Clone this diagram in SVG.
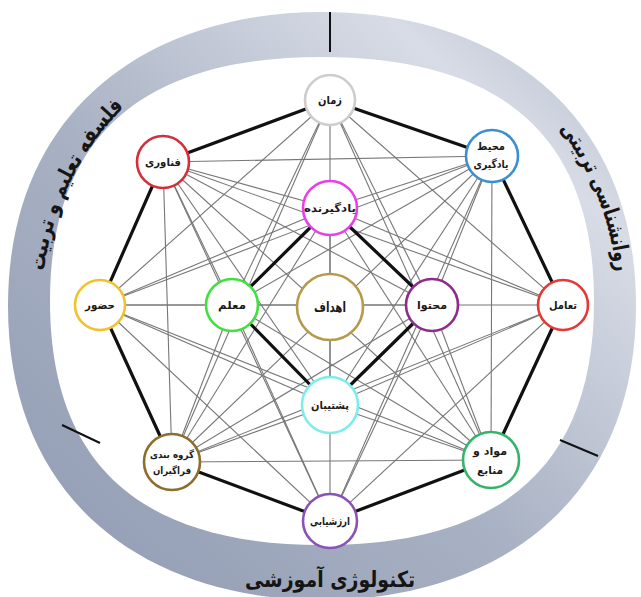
<svg xmlns="http://www.w3.org/2000/svg" width="641" height="597" viewBox="0 0 641 597">
<defs>
<linearGradient id="ringGrad" x1="0" y1="1" x2="1" y2="0">
<stop offset="0" stop-color="#8f99b1"/>
<stop offset="0.45" stop-color="#a9b2c4"/>
<stop offset="0.8" stop-color="#d8dce6"/>
<stop offset="1" stop-color="#aeb7c9"/>
</linearGradient>
<path id="leftArc" d="M 79.5 445 A 280 280 0 0 1 283 27.7"/>
<path id="rightArc" d="M 393.6 17.8 A 296 296 0 0 1 570.3 466.2"/>
</defs>
<style>
.thin{stroke:#777;stroke-width:1.1;fill:none}
.thick{stroke:#111;stroke-width:3.2;fill:none;stroke-linecap:round}
.node circle{fill:#fff;stroke-width:2.6}
.lbl{font-family:"DejaVu Sans",sans-serif;font-weight:bold;font-size:11px;fill:#1a1a1a;text-anchor:middle;dominant-baseline:central}
.ring{font-family:"DejaVu Sans",sans-serif;font-weight:bold;font-size:22px;fill:#151515}
.div{stroke:#111;stroke-width:2}
</style>
<rect width="641" height="597" fill="#fff"/>
<g id="ring">
<path fill="url(#ringGrad)" d="M 636 306 C 636 503 495 600 322 600 C 149 600 8 503 8 306 C 8 109 149 12 322 12 C 495 12 636 109 636 306 Z"/>
<path fill="#fff" d="M 594 301 C 594 464 504 545 322 545 C 140 545 50 464 50 301 C 50 138 140 57 322 57 C 504 57 594 138 594 301 Z"/>
<line class="div" x1="330" y1="12" x2="330" y2="52"/>
<line class="div" x1="62" y1="425" x2="100" y2="443"/>
<line class="div" x1="560" y1="440" x2="598" y2="456"/>
<text class="ring" text-anchor="middle"><textPath href="#leftArc" startOffset="50%" textLength="186" lengthAdjust="spacingAndGlyphs">فلسفه تعلیم و تربیت</textPath></text>
<text class="ring" text-anchor="middle"><textPath href="#rightArc" startOffset="50%" textLength="156" lengthAdjust="spacingAndGlyphs">روانشناسی تربیتی</textPath></text>
<text class="ring" x="330" y="587" text-anchor="middle" textLength="170" lengthAdjust="spacingAndGlyphs">تکنولوژی آموزشی</text>
</g>
<g id="connectors">
<line class="thin" x1="330" y1="100" x2="563" y2="305"/>
<line class="thin" x1="330" y1="100" x2="491" y2="460"/>
<line class="thin" x1="330" y1="100" x2="330" y2="521"/>
<line class="thin" x1="330" y1="100" x2="172" y2="462"/>
<line class="thin" x1="330" y1="100" x2="100" y2="305"/>
<line class="thin" x1="330" y1="100" x2="432" y2="305"/>
<line class="thin" x1="330" y1="100" x2="232" y2="305"/>
<line class="thin" x1="492" y1="156" x2="491" y2="460"/>
<line class="thin" x1="492" y1="156" x2="330" y2="521"/>
<line class="thin" x1="492" y1="156" x2="172" y2="462"/>
<line class="thin" x1="492" y1="156" x2="100" y2="305"/>
<line class="thin" x1="492" y1="156" x2="163" y2="162"/>
<line class="thin" x1="492" y1="156" x2="330" y2="208"/>
<line class="thin" x1="492" y1="156" x2="432" y2="305"/>
<line class="thin" x1="492" y1="156" x2="330" y2="405"/>
<line class="thin" x1="492" y1="156" x2="232" y2="305"/>
<line class="thin" x1="563" y1="305" x2="330" y2="521"/>
<line class="thin" x1="563" y1="305" x2="172" y2="462"/>
<line class="thin" x1="563" y1="305" x2="100" y2="305"/>
<line class="thin" x1="563" y1="305" x2="163" y2="162"/>
<line class="thin" x1="563" y1="305" x2="330" y2="208"/>
<line class="thin" x1="563" y1="305" x2="330" y2="405"/>
<line class="thin" x1="491" y1="460" x2="172" y2="462"/>
<line class="thin" x1="491" y1="460" x2="100" y2="305"/>
<line class="thin" x1="491" y1="460" x2="163" y2="162"/>
<line class="thin" x1="491" y1="460" x2="330" y2="208"/>
<line class="thin" x1="491" y1="460" x2="432" y2="305"/>
<line class="thin" x1="491" y1="460" x2="330" y2="405"/>
<line class="thin" x1="491" y1="460" x2="232" y2="305"/>
<line class="thin" x1="330" y1="521" x2="100" y2="305"/>
<line class="thin" x1="330" y1="521" x2="163" y2="162"/>
<line class="thin" x1="330" y1="521" x2="432" y2="305"/>
<line class="thin" x1="330" y1="521" x2="232" y2="305"/>
<line class="thin" x1="172" y1="462" x2="163" y2="162"/>
<line class="thin" x1="172" y1="462" x2="330" y2="208"/>
<line class="thin" x1="172" y1="462" x2="432" y2="305"/>
<line class="thin" x1="172" y1="462" x2="330" y2="405"/>
<line class="thin" x1="172" y1="462" x2="232" y2="305"/>
<line class="thin" x1="100" y1="305" x2="330" y2="208"/>
<line class="thin" x1="100" y1="305" x2="232" y2="305"/>
<line class="thin" x1="100" y1="305" x2="330" y2="405"/>
<line class="thin" x1="163" y1="162" x2="330" y2="208"/>
<line class="thin" x1="163" y1="162" x2="432" y2="305"/>
<line class="thin" x1="163" y1="162" x2="330" y2="405"/>
<line class="thin" x1="163" y1="162" x2="232" y2="305"/>
<line class="thin" x1="330" y1="208" x2="330" y2="405"/>
<line class="thin" x1="432" y1="305" x2="232" y2="305"/>
<line class="thick" x1="330" y1="100" x2="492" y2="156"/>
<line class="thick" x1="492" y1="156" x2="563" y2="305"/>
<line class="thick" x1="563" y1="305" x2="491" y2="460"/>
<line class="thick" x1="491" y1="460" x2="330" y2="521"/>
<line class="thick" x1="330" y1="521" x2="172" y2="462"/>
<line class="thick" x1="172" y1="462" x2="100" y2="305"/>
<line class="thick" x1="100" y1="305" x2="163" y2="162"/>
<line class="thick" x1="163" y1="162" x2="330" y2="100"/>
<line class="thick" x1="330" y1="208" x2="432" y2="305"/>
<line class="thick" x1="432" y1="305" x2="330" y2="405"/>
<line class="thick" x1="330" y1="405" x2="232" y2="305"/>
<line class="thick" x1="232" y1="305" x2="330" y2="208"/>
</g>
<g id="n-zaman" class="node"><circle cx="330" cy="100" r="25" stroke="#cdcdcd"/><text class="lbl" x="330" y="100" textLength="24" lengthAdjust="spacingAndGlyphs">زمان</text></g>
<g id="n-mohit" class="node"><circle cx="492" cy="156" r="26" stroke="#3a8fd0"/><text class="lbl" x="491" y="146" textLength="28" lengthAdjust="spacingAndGlyphs">محیط</text><text class="lbl" x="491" y="164" textLength="35" lengthAdjust="spacingAndGlyphs">یادگیری</text></g>
<g id="n-tamol" class="node"><circle cx="563" cy="305" r="25" stroke="#e53935"/><text class="lbl" x="563" y="305" textLength="28" lengthAdjust="spacingAndGlyphs">تعامل</text></g>
<g id="n-mavad" class="node"><circle cx="491" cy="460" r="28" stroke="#34b46a"/><text class="lbl" x="490" y="451" textLength="34" lengthAdjust="spacingAndGlyphs">مواد و</text><text class="lbl" x="490" y="470" textLength="26" lengthAdjust="spacingAndGlyphs">منابع</text></g>
<g id="n-arzeshyabi" class="node"><circle cx="330" cy="521" r="27" stroke="#8a52b8"/><text class="lbl" x="330" y="521" textLength="40" lengthAdjust="spacingAndGlyphs">ارزشیابی</text></g>
<g id="n-goruh" class="node"><circle cx="172" cy="462" r="28" stroke="#8c6d2c"/><text class="lbl" x="172" y="454" textLength="44" lengthAdjust="spacingAndGlyphs" style="font-size:10px">گروه بندی</text><text class="lbl" x="172" y="470" textLength="38" lengthAdjust="spacingAndGlyphs" style="font-size:10px">فراگیران</text></g>
<g id="n-hozur" class="node"><circle cx="100" cy="305" r="25" stroke="#f2c12e"/><text class="lbl" x="100" y="305" textLength="30" lengthAdjust="spacingAndGlyphs">حضور</text></g>
<g id="n-fanavari" class="node"><circle cx="163" cy="162" r="26" stroke="#d32f3a"/><text class="lbl" x="163" y="162" textLength="36" lengthAdjust="spacingAndGlyphs">فناوری</text></g>
<g id="n-yadgirande" class="node"><circle cx="330" cy="208" r="27" stroke="#e83fe8"/><text class="lbl" x="330" y="208" textLength="52" lengthAdjust="spacingAndGlyphs">یادگیرنده</text></g>
<g id="n-mohtava" class="node"><circle cx="432" cy="305" r="26" stroke="#8e2c8e"/><text class="lbl" x="432" y="305" textLength="30" lengthAdjust="spacingAndGlyphs">محتوا</text></g>
<g id="n-poshtiban" class="node"><circle cx="330" cy="405" r="28" stroke="#7fecec"/><text class="lbl" x="330" y="405" textLength="38" lengthAdjust="spacingAndGlyphs">پشتیبان</text></g>
<g id="n-moalem" class="node"><circle cx="232" cy="305" r="26" stroke="#3fe03f"/><text class="lbl" x="232" y="305" textLength="28" lengthAdjust="spacingAndGlyphs">معلم</text></g>
<g id="n-ahdaf" class="node"><circle cx="330" cy="307" r="33" stroke="#b59a4a"/><text class="lbl" x="330" y="307" textLength="32" lengthAdjust="spacingAndGlyphs" style="font-size:14px">اهداف</text></g>
</svg>
